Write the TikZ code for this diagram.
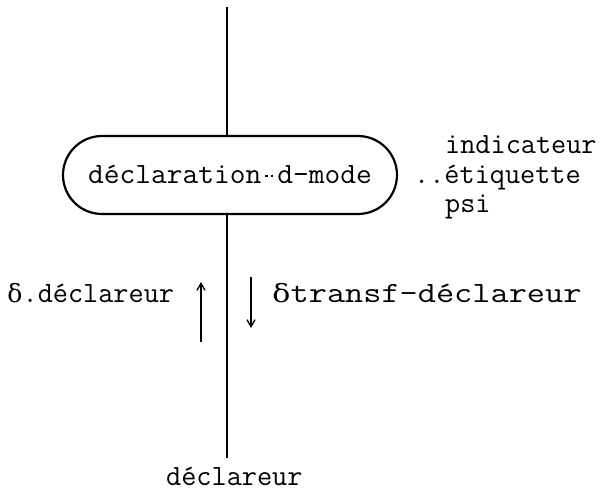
\documentclass[tikz,border=0pt]{standalone}
\usepackage{fontspec}
\newfontfamily\grk{DejaVu Serif}[Scale=0.85]
\usetikzlibrary{arrows.meta}
\newcommand\dl{\makebox[0.525em]{\grk δ}}
\newcommand\dotdash{\makebox[0.525em]{\rule[0.2em]{0.07em}{0.07em}\hspace{0.12em}\rule[0.2em]{0.07em}{0.07em}}}
\tikzset{
  txt/.style={inner sep=0pt, font=\fontsize{29.4}{30}\selectfont\ttfamily},
  mainline/.style={line width=2.6pt},
  flow/.style={line width=1.1pt, -{Straight Barb[length=7pt,width=8pt,line width=1.3pt]}}
}
\begin{document}
\begin{tikzpicture}[x=1pt,y=-1pt]
\useasboundingbox (0,0) rectangle (600,496);
\coordinate (top) at (227,7);
\coordinate (bot) at (227,458);
\node[draw, line width=2.2pt, rounded corners=39pt, minimum width=334pt, minimum height=78pt, inner sep=0pt] (box) at (230,175) {};
\node[txt, anchor=base] (boxtxt) at (230,183) {\scalebox{1.04}[1]{déclaration\dotdash d-mode}};
\draw[mainline] (top) -- (top |- box.north);
\draw[mainline] (top |- box.south) -- (bot);
\node[txt, anchor=base west] (ind) at (445,153) {indicateur};
\node[txt, anchor=base west] (eti) at (414,183) {..étiquette};
\node[txt, anchor=base west] (psi) at (445,212) {psi};
\node[txt, anchor=base west] (dd) at (7,302) {\dl.déclareur};
\node[txt, anchor=base west] (dt) at (272,302) {\scalebox{1.2}[1]{\dl transf-déclareur}};
\node[txt, anchor=base west] (decl) at (166,485) {déclareur};
\coordinate (u1) at (201,342);
\coordinate (u2) at (201,282);
\coordinate (d1) at (251,277);
\coordinate (d2) at (251,328);
\draw[flow] (u1) -- (u2);
\draw[flow] (d1) -- (d2);
\end{tikzpicture}
\end{document}
